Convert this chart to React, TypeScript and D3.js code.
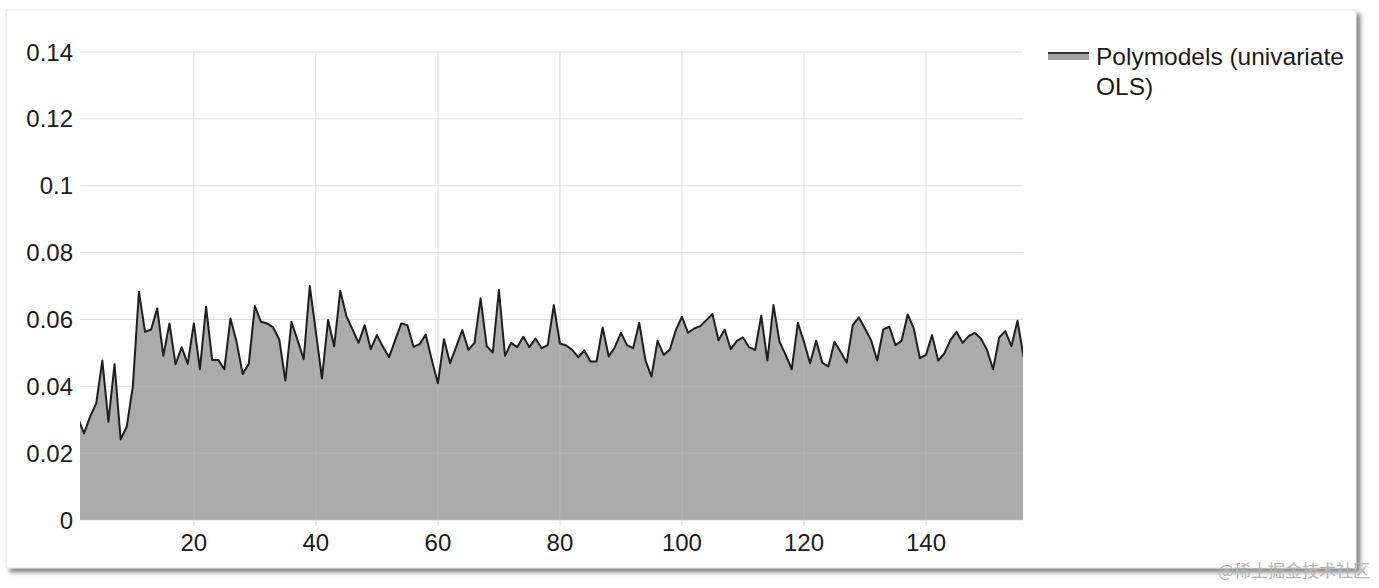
import React from 'react';
import * as d3 from 'd3';

// error per step (x = 1..156)
const errorValues = [
  0.0305, 0.0259, 0.0309, 0.0349, 0.0477, 0.0294, 0.0466, 0.0241, 0.0279, 0.0399,
  0.0683, 0.0563, 0.0570, 0.0633, 0.0491, 0.0588, 0.0466, 0.0517, 0.0467, 0.0588,
  0.0451, 0.0638, 0.0479, 0.0479, 0.0451, 0.0603, 0.0533, 0.0437, 0.0467, 0.0640,
  0.0593, 0.0588, 0.0576, 0.0540, 0.0417, 0.0593, 0.0538, 0.0481, 0.0700, 0.0563,
  0.0424, 0.0598, 0.0520, 0.0686, 0.0610, 0.0570, 0.0530, 0.0583, 0.0511, 0.0553,
  0.0518, 0.0487, 0.0538, 0.0588, 0.0583, 0.0518, 0.0526, 0.0555, 0.0479, 0.0409,
  0.0541, 0.0469, 0.0518, 0.0568, 0.0509, 0.0530, 0.0663, 0.0520, 0.0501, 0.0688,
  0.0491, 0.0530, 0.0517, 0.0548, 0.0517, 0.0543, 0.0514, 0.0523, 0.0643, 0.0528,
  0.0523, 0.0509, 0.0487, 0.0507, 0.0474, 0.0474, 0.0576, 0.0489, 0.0517, 0.0560,
  0.0523, 0.0514, 0.0590, 0.0479, 0.0429, 0.0536, 0.0494, 0.0509, 0.0568, 0.0608,
  0.0560, 0.0573, 0.0580, 0.0598, 0.0616, 0.0538, 0.0570, 0.0511, 0.0536, 0.0546,
  0.0517, 0.0509, 0.0611, 0.0477, 0.0643, 0.0533, 0.0494, 0.0451, 0.0590, 0.0533,
  0.0469, 0.0536, 0.0471, 0.0459, 0.0533, 0.0503, 0.0471, 0.0583, 0.0606, 0.0573,
  0.0538, 0.0477, 0.0570, 0.0578, 0.0523, 0.0536, 0.0615, 0.0573, 0.0484, 0.0494,
  0.0553, 0.0477, 0.0498, 0.0538, 0.0563, 0.0530, 0.0550, 0.0560, 0.0543, 0.0509,
  0.0451, 0.0546, 0.0565, 0.0520, 0.0596, 0.0487,
];

const yTicks = [0, 0.02, 0.04, 0.06, 0.08, 0.1, 0.12, 0.14];
const yTickLabels = ['0', '0.02', '0.04', '0.06', '0.08', '0.1', '0.12', '0.14'];
const xTicks = [20, 40, 60, 80, 100, 120, 140];
const seriesName = ['Polymodels (univariate', 'OLS)'];

const W = 1379;
const H = 588;
const plot = { left: 80, right: 1023, top: 52, bottom: 520 };
const font = '"Liberation Sans", Arial, Helvetica, sans-serif';

interface Point { x: number; v: number; }

const App: React.FC = () => {
  const points: Point[] = errorValues.map((v, i) => ({ x: i + 1, v }));

  const xScale = d3.scaleLinear().domain([1.34, 155.9]).range([plot.left, plot.right]);
  const yScale = d3.scaleLinear().domain([0, 0.14]).range([plot.bottom, plot.top]);

  const area = d3.area<Point>()
    .x(d => xScale(d.x))
    .y0(yScale(0))
    .y1(d => yScale(d.v));
  const line = d3.line<Point>()
    .x(d => xScale(d.x))
    .y(d => yScale(d.v));
  const areaPath = area(points) || '';

  const grid = (stroke: string, opacity: number, tickLen: number) => (
    <g stroke={stroke} strokeOpacity={opacity} strokeWidth={1}>
      {yTicks.map(t => (
        <line key={'gy' + t} x1={plot.left} x2={plot.right} y1={yScale(t)} y2={yScale(t)} />
      ))}
      {xTicks.map(t => (
        <line key={'gx' + t} x1={xScale(t)} x2={xScale(t)} y1={plot.top} y2={plot.bottom + tickLen} />
      ))}
    </g>
  );

  return (
    <svg width={W} height={H} style={{ position: 'absolute', left: 0, top: 0, background: '#fff' }}>
      <defs>
        <filter id="cardShadow" x="-5%" y="-5%" width="110%" height="115%">
          <feDropShadow dx="4" dy="4" stdDeviation="2" floodColor="#666" floodOpacity="0.8" />
        </filter>
        <clipPath id="plotClip">
          <rect x={plot.left} y={plot.top - 2} width={plot.right - plot.left} height={plot.bottom - plot.top + 2} />
        </clipPath>
        <clipPath id="areaClip">
          <path d={areaPath} />
        </clipPath>
      </defs>

      {/* card */}
      <rect x={6} y={10} width={1350} height={558} fill="#fff" stroke="#e6e6e6" strokeWidth={1} filter="url(#cardShadow)" />

      {grid('#dcdcdc', 1, 6)}

      {/* series */}
      <g clipPath="url(#plotClip)">
        <path d={areaPath} fill="#a2a2a2" fillOpacity={0.9} />
        <g clipPath="url(#areaClip)">{grid('#c8c8c8', 0.45, 0)}</g>
        <path d={line(points) || ''} fill="none" stroke="#1e1e1e" strokeWidth={2} strokeLinejoin="round" />
      </g>

      {/* axis labels */}
      <g fontFamily={font} fontSize={24} fill="#1a1a1a">
        {yTicks.map((t, i) => (
          <text key={'ty' + t} x={73} y={yScale(t)} dy="0.36em" textAnchor="end">{yTickLabels[i]}</text>
        ))}
        {xTicks.map(t => (
          <text key={'tx' + t} x={xScale(t)} y={542} dy="0.36em" textAnchor="middle">{t}</text>
        ))}
      </g>

      {/* legend */}
      <g fontFamily={font} fontSize={24.5} fill="#1a1a1a">
        <rect x={1048} y={52} width={41} height={8} fill="#a2a2a2" />
        <line x1={1048} x2={1089} y1={53} y2={53} stroke="#333" strokeWidth={2} />
        <text x={1096} y={65}>{seriesName[0]}</text>
        <text x={1096} y={95}>{seriesName[1]}</text>
      </g>

      {/* watermark */}
      <text x={1370} y={577} textAnchor="end" fontFamily='"Noto Sans CJK SC", sans-serif' fontSize={17} fill="#b5b5b5">
        @稀土掘金技术社区
      </text>
    </svg>
  );
};

export default App;
